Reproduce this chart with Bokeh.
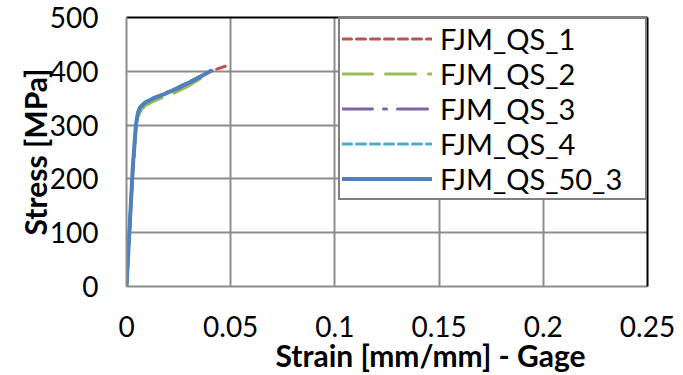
from bokeh.plotting import figure
from bokeh.models import Range1d, FixedTicker, LinearAxis, Title
from bokeh.embed import file_html
from bokeh.resources import INLINE

# ---- data ----
series_names = ["FJM_QS_1", "FJM_QS_2", "FJM_QS_3", "FJM_QS_4", "FJM_QS_50_3"]

strain_qs1 = [0, 0.0015, 0.003, 0.0045, 0.0055, 0.0065, 0.009, 0.0125, 0.0165, 0.022, 0.029, 0.0345, 0.0387, 0.0432, 0.0478]
stress_qs1 = [0, 108, 218, 298, 322, 333, 342, 349, 356, 365, 378, 389, 397, 404, 410]

strain_qs2 = [0, 0.0015, 0.003, 0.0045, 0.0058, 0.007, 0.009, 0.0125, 0.0165, 0.022, 0.029, 0.034, 0.039]
stress_qs2 = [0, 105, 212, 290, 318, 328, 336, 343, 350, 358, 371, 383, 394]

strain_qs3 = [0, 0.0015, 0.003, 0.0045, 0.0055, 0.0065, 0.009, 0.0125, 0.0165, 0.022, 0.029, 0.0345, 0.0400]
stress_qs3 = [0, 110, 219, 299, 322, 332, 341, 348, 355, 363, 376, 387, 399]

strain_qs4 = [0, 0.0015, 0.003, 0.0045, 0.0055, 0.0065, 0.009, 0.0125, 0.0165, 0.022, 0.029, 0.0345, 0.0388, 0.0412]
stress_qs4 = [0, 111, 221, 301, 324, 334, 343, 350, 356, 365, 378, 389, 397, 402]

strain_qs50_3 = [0, 0.0015, 0.003, 0.0045, 0.0055, 0.0065, 0.009, 0.0125, 0.0165, 0.022, 0.029, 0.0345, 0.0387, 0.0405]
stress_qs50_3 = [0, 110, 220, 300, 323, 333, 342, 349, 355, 364, 377, 388, 397, 401]

x_ticks = [0, 0.05, 0.1, 0.15, 0.2, 0.25]
x_tick_labels = ["0", "0.05", "0.1", "0.15", "0.2", "0.25"]
y_ticks = [0, 100, 200, 300, 400, 500]
y_tick_labels = ["0", "100", "200", "300", "400", "500"]

x_title = "Strain [mm/mm] - Gage"
y_title = "Stress [MPa]"

# ---- styles ----
FONT = "Lato"
colors = ["#C0504D", "#9BBB59", "#8064A2", "#4BACC6", "#4F81BD"]
dashes = ["9 5", "30 13", "30 11 3 11", "9 5", "solid"]
widths = [3, 3, 3, 3, 4]
GRID = "#8c8c8c"

p = figure(width=683, height=375, output_backend="svg", toolbar_location=None,
           x_range=Range1d(0, 0.25), y_range=Range1d(0, 500),
           min_border_left=126, min_border_right=36, min_border_top=17, min_border_bottom=89,
           background_fill_color="white", border_fill_color="white")
p.outline_line_color = None

xs = [strain_qs1, strain_qs2, strain_qs3, strain_qs4, strain_qs50_3]
ys = [stress_qs1, stress_qs2, stress_qs3, stress_qs4, stress_qs50_3]
for x, y, name, c, d, w in zip(xs, ys, series_names, colors, dashes, widths):
    p.line(x, y, line_color=c, line_dash=d, line_width=w, line_cap="round",
           line_join="round", legend_label=name)

# axes
p.xaxis.ticker = FixedTicker(ticks=x_ticks)
p.yaxis.ticker = FixedTicker(ticks=y_ticks)
p.xaxis.major_label_overrides = {t: l for t, l in zip(x_ticks, x_tick_labels)}
p.yaxis.major_label_overrides = {t: l for t, l in zip(y_ticks, y_tick_labels)}
for ax in (p.xaxis[0], p.yaxis[0]):
    ax.major_tick_line_color = None
    ax.minor_tick_line_color = None
    ax.major_tick_out = 0
    ax.major_tick_in = 0
    ax.axis_line_color = GRID
    ax.axis_line_width = 2
    ax.major_label_text_font = FONT
    ax.major_label_text_font_size = "28px"
    ax.major_label_text_color = "black"
p.xaxis.major_label_standoff = 29
p.yaxis.major_label_standoff = 28

p.yaxis.axis_label = y_title
p.yaxis.axis_label_text_font = FONT
p.yaxis.axis_label_text_font_style = "bold"
p.yaxis.axis_label_text_font_size = "30px"
p.yaxis.axis_label_text_color = "black"
p.yaxis.axis_label_standoff = -6

# top / right frame edges in black
for loc in ("above", "right"):
    ax = LinearAxis(ticker=FixedTicker(ticks=[]), axis_line_color="black", axis_line_width=2,
                    major_tick_line_color=None, minor_tick_line_color=None,
                    major_label_text_font_size="0px")
    p.add_layout(ax, loc)

p.xgrid.ticker = FixedTicker(ticks=x_ticks)
p.ygrid.ticker = FixedTicker(ticks=y_ticks)
p.grid.grid_line_color = GRID
p.grid.grid_line_width = 2

# x axis title as a bottom title (offset to the right as in the reference)
p.add_layout(Title(text=x_title, align="left", offset=149, standoff=-5, vertical_align="top",
                   text_font=FONT, text_font_style="bold", text_font_size="30px",
                   text_color="black"), "below")

# legend
lg = p.legend[0]
lg.location = "top_right"
lg.margin = 0
lg.padding = 2
lg.spacing = 0
lg.glyph_width = 90
lg.glyph_height = 35
lg.label_height = 35
lg.label_width = 203
lg.label_standoff = 8
lg.label_text_font = FONT
lg.label_text_font_size = "29px"
lg.label_text_color = "black"
lg.border_line_color = "black"
lg.border_line_width = 2
lg.background_fill_color = "white"
lg.background_fill_alpha = 1.0

open("out.html", "w").write(file_html(p, INLINE))
